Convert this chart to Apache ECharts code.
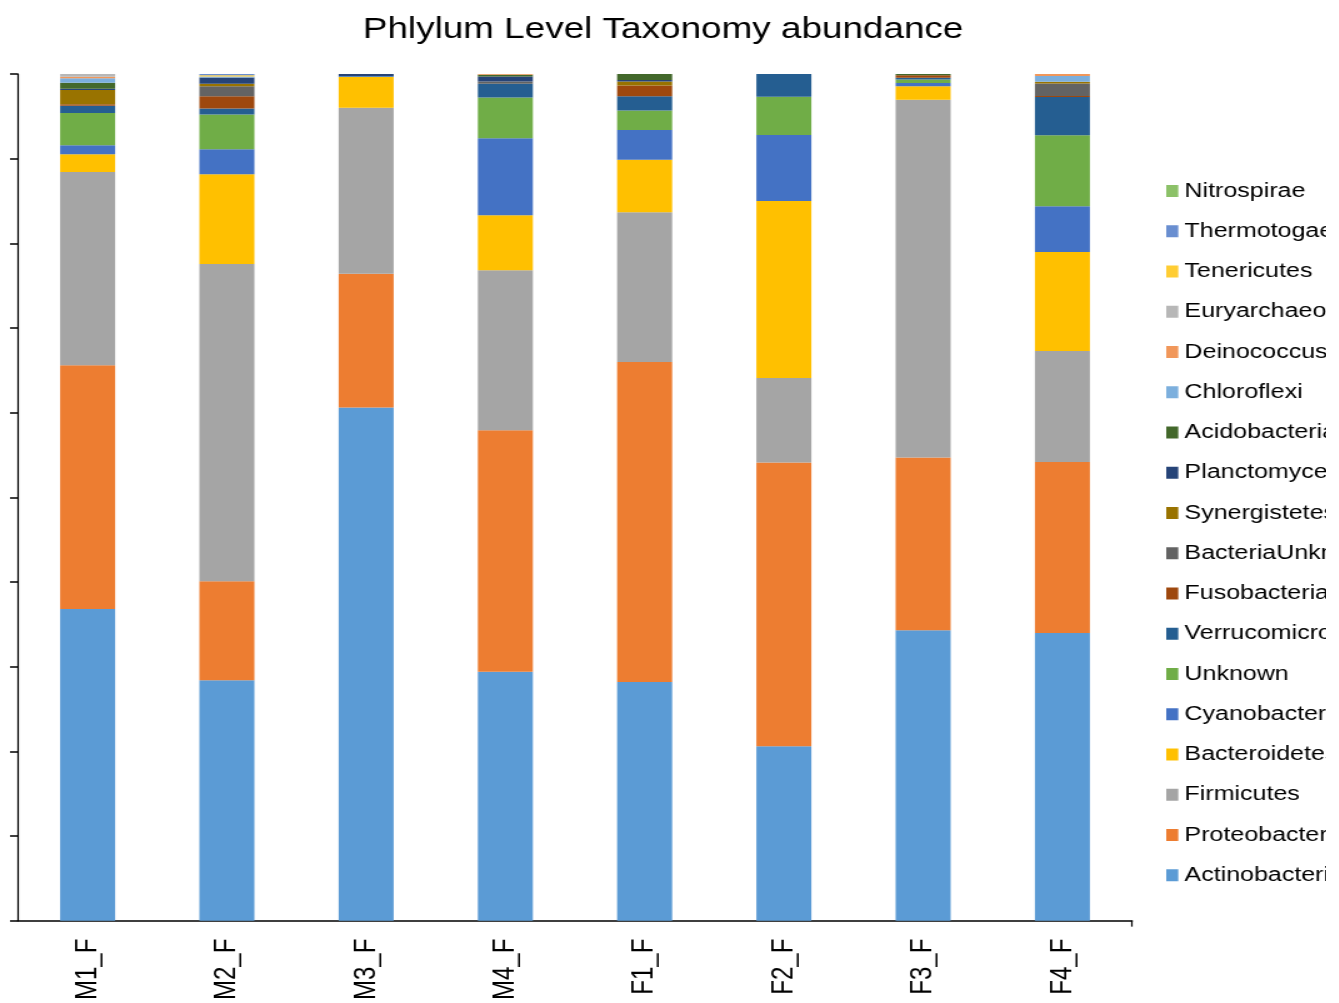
<!DOCTYPE html>
<html>
<head>
<meta charset="utf-8">
<script src="https://cdn.jsdelivr.net/npm/echarts@6/dist/echarts.min.js"></script>
<style>
  html, body { margin: 0; padding: 0; background: #fff; }
  /* The chart is laid out on a narrower canvas and widened horizontally */
  #frame { width: 1326px; height: 1003px; overflow: hidden; }
  #chart { width: 1061px; height: 1003px; transform: scaleX(1.25); transform-origin: 0 0; }
</style>
</head>
<body>
<div id="frame"><div id="chart"></div></div>
<script>
// Samples along the x axis
const samples = ['M1_F', 'M2_F', 'M3_F', 'M4_F', 'F1_F', 'F2_F', 'F3_F', 'F4_F'];

// Relative abundance (%) per phylum, one value per sample (stacked bottom to top)
const actinobacteria   = [36.8, 28.4, 60.6, 29.4, 28.2, 20.6, 34.3, 33.97];
const proteobacteria   = [28.8, 11.7, 15.8, 28.51, 37.78, 33.5, 20.4, 20.2];
const firmicutes       = [22.83, 37.47, 19.6, 18.9, 17.7, 10.0, 42.25, 13.1];
const bacteroidetes    = [2.1, 10.6, 3.65, 6.5, 6.2, 20.9, 1.6, 11.7];
const cyanobacteria    = [1.06, 2.95, 0.05, 9.1, 3.5, 7.8, 0.4, 5.4];
const unknown          = [3.8, 4.1, 0, 4.8, 2.3, 4.5, 0.4, 8.4];
const verrucomicrobia  = [0.86, 0.7, 0.05, 1.65, 1.7, 2.7, 0.2, 4.5];
const fusobacteria     = [0.17, 1.45, 0, 0, 1.25, 0, 0.3, 0.12];
const bacteriaUnknown  = [0, 1.18, 0, 0.24, 0, 0, 0, 1.5];
const synergistetes    = [1.7, 0.3, 0, 0, 0.47, 0, 0, 0.2];
const planctomycetes   = [0.15, 0.75, 0.25, 0.6, 0.2, 0, 0, 0];
const acidobacteria    = [0.7, 0, 0, 0.2, 0.7, 0, 0.15, 0];
const chloroflexi      = [0.52, 0.1, 0, 0, 0, 0, 0, 0.67];
const deinococcus      = [0.19, 0, 0, 0.1, 0, 0, 0, 0.24];
const euryarchaeota    = [0.32, 0, 0, 0, 0, 0, 0, 0];
const tenericutes      = [0, 0.15, 0, 0, 0, 0, 0, 0];
const thermotogae      = [0, 0.15, 0, 0, 0, 0, 0, 0];
const nitrospirae      = [0, 0, 0, 0, 0, 0, 0, 0];

const phyla = [
  { name: 'Actinobacteria',      data: actinobacteria,  color: '#5B9BD5' },
  { name: 'Proteobacteria',      data: proteobacteria,  color: '#ED7D31' },
  { name: 'Firmicutes',          data: firmicutes,      color: '#A5A5A5' },
  { name: 'Bacteroidetes',       data: bacteroidetes,   color: '#FFC000' },
  { name: 'Cyanobacteria',       data: cyanobacteria,   color: '#4472C4' },
  { name: 'Unknown',             data: unknown,         color: '#70AD47' },
  { name: 'Verrucomicrobia',     data: verrucomicrobia, color: '#255E91' },
  { name: 'Fusobacteria',        data: fusobacteria,    color: '#9E480E' },
  { name: 'BacteriaUnknown',     data: bacteriaUnknown, color: '#636363' },
  { name: 'Synergistetes',       data: synergistetes,   color: '#997300' },
  { name: 'Planctomycetes',      data: planctomycetes,  color: '#264478' },
  { name: 'Acidobacteria',       data: acidobacteria,   color: '#43682B' },
  { name: 'Chloroflexi',         data: chloroflexi,     color: '#7CAFDD' },
  { name: 'Deinococcus-Thermus', data: deinococcus,     color: '#F1975A' },
  { name: 'Euryarchaeota',       data: euryarchaeota,   color: '#B7B7B7' },
  { name: 'Tenericutes',         data: tenericutes,     color: '#FFCD33' },
  { name: 'Thermotogae',         data: thermotogae,     color: '#698ED0' },
  { name: 'Nitrospirae',         data: nitrospirae,     color: '#8CC168' }
];

const FONT = 'Liberation Sans, Arial, sans-serif';

const chart = echarts.init(document.getElementById('chart'), null, { renderer: 'canvas' });

chart.setOption({
  animation: false,
  backgroundColor: '#fff',
  title: {
    text: 'Phlylum Level Taxonomy abundance',
    left: 'center',
    top: 10,
    textStyle: { fontFamily: FONT, fontSize: 29.5, fontWeight: 'normal', color: '#000' }
  },
  legend: {
    orient: 'vertical',
    left: 933,
    top: 181,
    padding: 0,
    icon: 'rect',
    itemWidth: 9.6,
    itemHeight: 12,
    itemGap: 20.25,
    data: phyla.map(p => p.name).reverse(),
    textStyle: { fontFamily: FONT, fontSize: 20, lineHeight: 20, color: '#000' }
  },
  grid: { left: 14.4, right: 155.4, top: 74, bottom: 81, containLabel: false },
  xAxis: [
    {
      type: 'category',
      data: samples,
      axisLine: { lineStyle: { color: '#000', width: 1.5 } },
      axisTick: { alignWithLabel: true, length: 6, lineStyle: { color: '#000', width: 1.2 } },
      axisLabel: {
        rotate: 90,
        margin: 18,
        fontFamily: FONT,
        fontSize: 24,
        color: '#000'
      }
    },
    {
      // closing tick at the right end of the category axis
      type: 'category',
      position: 'bottom',
      boundaryGap: false,
      data: ['', ''],
      axisLine: { show: false },
      axisTick: {
        length: 6,
        interval: (index) => index === 1,
        lineStyle: { color: '#000', width: 1.2 }
      },
      axisLabel: { show: false },
      splitLine: { show: false }
    }
  ],
  yAxis: {
    type: 'value',
    min: 0,
    max: 100,
    interval: 10,
    axisLine: { show: true, lineStyle: { color: '#000', width: 1.2 } },
    axisTick: { show: true, length: 6.4, lineStyle: { color: '#000', width: 1.5 } },
    axisLabel: { show: false },
    splitLine: { show: false }
  },
  series: phyla.map(p => ({
    name: p.name,
    type: 'bar',
    stack: 'total',
    barWidth: 44,
    data: p.data,
    itemStyle: { color: p.color }
  }))
});
</script>
</body>
</html>
